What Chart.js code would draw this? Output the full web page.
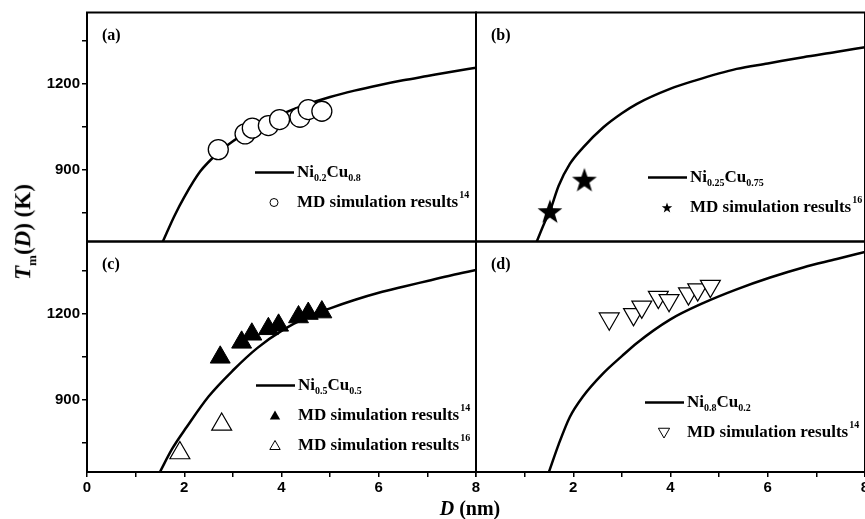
<!DOCTYPE html>
<html>
<head>
<meta charset="utf-8">
<script src="https://cdn.jsdelivr.net/npm/chart.js@4.4.1/dist/chart.umd.min.js"></script>
<style>
  html, body { margin: 0; padding: 0; background: #fff; overflow: hidden; width: 865px; height: 519px; }
  .box { position: absolute; }
  #ytitle { position: absolute; left: 25px; top: 232px; transform: translate(-50%, -50%) rotate(-90deg);
    font: bold 23px "Liberation Serif"; white-space: nowrap; color: #000; }
  #ytitle sub { font-size: 13px; }
  #xtitle { position: absolute; left: 470px; top: 508px; transform: translate(-50%, -50%);
    font: bold 20px "Liberation Serif"; white-space: nowrap; color: #000; }
</style>
</head>
<body>
<div class="box" style="left:0;top:0;width:478px;height:243px"><canvas id="ca"></canvas></div>
<div class="box" style="left:474px;top:0;width:400px;height:243px"><canvas id="cb"></canvas></div>
<div class="box" style="left:474px;top:240px;width:400px;height:279px"><canvas id="cd"></canvas></div>
<div class="box" style="left:0;top:240px;width:490px;height:279px"><canvas id="cc"></canvas></div>
<div id="ytitle"><i>T</i><sub>m</sub>(<i>D</i>) (K)</div>
<div id="xtitle"><i>D</i> (nm)</div>
<script>
// axis ticks
const xTicks = [0, 1, 2, 3, 4, 5, 6, 7, 8];
const xLabeled = [0, 2, 4, 6, 8];
const yTicks = [750, 900, 1050, 1200, 1350];
const yLabeled = [900, 1200];

// (a) Ni0.2Cu0.8
const curveA_D = [1.56, 1.8, 2.0, 2.33, 2.7, 3.0, 3.5, 4.0, 4.5, 5.0, 5.5, 6.0, 6.5, 7.0, 7.5, 8.0];
const curveA_T = [650, 740, 805, 895, 960, 1000, 1055, 1095, 1128, 1155, 1177, 1196, 1213, 1228, 1243, 1257];
const mdA_D = [2.70, 3.25, 3.40, 3.73, 3.96, 4.38, 4.55, 4.83];
const mdA_T = [971, 1026, 1046, 1055, 1076, 1084, 1111, 1105];

// (b) Ni0.25Cu0.75
const curveB_D = [1.25, 1.4, 1.52, 1.7, 1.93, 2.2, 2.62, 3.0, 3.31, 3.99, 4.5, 5.36, 6.0, 6.73, 7.4, 8.0];
const curveB_T = [650, 712, 756, 845, 921, 978, 1049, 1098, 1131, 1183, 1212, 1253, 1272, 1294, 1312, 1329];
const mdB_D = [1.52, 2.23];
const mdB_T = [756, 866];

// (c) Ni0.5Cu0.5
const curveC_D = [1.5, 1.75, 2.05, 2.5, 3.01, 3.5, 4.04, 4.5, 5.0, 5.5, 6.0, 6.5, 7.0, 7.5, 8.0];
const curveC_T = [650, 730, 806, 912, 1004, 1080, 1144, 1185, 1218, 1247, 1272, 1293, 1313, 1333, 1351];
const mdC14_D = [2.74, 3.18, 3.39, 3.73, 3.94, 4.35, 4.55, 4.83];
const mdC14_T = [1048, 1100, 1128, 1147, 1159, 1188, 1200, 1205];
const mdC16_D = [1.91, 2.77];
const mdC16_T = [716, 815];

// (d) Ni0.8Cu0.2
const curveD_D = [1.5, 1.7, 1.93, 2.2, 2.62, 3.0, 3.31, 3.99, 4.68, 5.36, 6.05, 6.73, 7.42, 8.0];
const curveD_T = [650, 746, 841, 912, 993, 1052, 1098, 1179, 1237, 1284, 1325, 1360, 1389, 1414];
const mdD_D = [2.74, 3.24, 3.41, 3.75, 3.97, 4.37, 4.56, 4.82];
const mdD_T = [1182, 1197, 1223, 1257, 1246, 1269, 1283, 1295];

const pts = (xs, ys) => xs.map((x, i) => ({ x: x, y: ys[i] }));

// filled five-point star used as marker in (b)
function makeStar(r) {
  const c = document.createElement('canvas');
  c.width = c.height = Math.ceil(r * 2 + 2);
  const g = c.getContext('2d');
  starPath(g, c.width / 2, c.height / 2 + r * 0.1, r);
  g.fillStyle = '#000';
  g.fill();
  return c;
}
function starPath(g, cx, cy, r) {
  g.beginPath();
  for (let i = 0; i < 10; i++) {
    const rr = i % 2 === 0 ? r : r * 0.4;
    const a = -Math.PI / 2 + i * Math.PI / 5;
    g.lineTo(cx + rr * Math.cos(a), cy + rr * Math.sin(a));
  }
  g.closePath();
}
const bigStar = makeStar(13);

const SERIF = '"Liberation Serif", "Times New Roman", serif';
const SANS = '"Liberation Sans", Arial, sans-serif';

function triPath(g, x, y, r, down) {
  const s = down ? -1 : 1;
  g.beginPath();
  g.moveTo(x, y - s * r);
  g.lineTo(x + r * 0.866, y + s * r * 0.5);
  g.lineTo(x - r * 0.866, y + s * r * 0.5);
  g.closePath();
}

function drawMarker(g, kind, x, y) {
  g.save();
  g.lineWidth = 1;
  g.strokeStyle = '#000';
  g.fillStyle = '#000';
  if (kind === 'circle') {
    g.beginPath(); g.arc(x, y, 4, 0, Math.PI * 2);
    g.fillStyle = '#fff'; g.fill(); g.stroke();
  } else if (kind === 'star') {
    starPath(g, x, y + 0.5, 5.5); g.fill();
  } else if (kind === 'tri') {
    triPath(g, x, y + 1, 6, false); g.fill();
  } else if (kind === 'otri') {
    triPath(g, x, y + 1, 6, false); g.fillStyle = '#fff'; g.fill(); g.stroke();
  } else if (kind === 'dtri') {
    triPath(g, x, y - 1, 6.5, true); g.fillStyle = '#fff'; g.fill(); g.stroke();
  }
  g.restore();
}

function drawRich(g, x, y, parts) {
  g.textBaseline = 'middle';
  g.textAlign = 'left';
  g.fillStyle = '#000';
  parts.forEach(p => {
    if (p.sub) {
      g.font = 'bold 10px ' + SERIF;
      g.fillText(p.t, x, y + 6);
    } else if (p.sup) {
      g.font = 'bold 10px ' + SERIF;
      g.fillText(p.t, x + 1, y - 7);
    } else {
      g.font = 'bold 17px ' + SERIF;
      g.fillText(p.t, x, y);
    }
    x += g.measureText(p.t).width + (p.sup ? 1 : 0);
  });
}

// frame, panel letter and legend
const panelDeco = {
  id: 'panelDeco',
  afterDraw(chart, args, opts) {
    const g = chart.ctx;
    const a = chart.chartArea;
    g.save();
    g.strokeStyle = '#000';
    g.lineWidth = 2;
    g.strokeRect(a.left, a.top, a.right - a.left, a.bottom - a.top);

    g.fillStyle = '#000';
    g.font = 'bold 16px ' + SERIF;
    g.textBaseline = 'middle';
    g.fillText(opts.letter, a.left + 15, a.top + 23);

    const lx = a.left + opts.lx, ly = a.top + opts.ly;
    opts.rows.forEach((row, i) => {
      const y = ly + i * 30;
      if (row.kind === 'line') {
        g.beginPath();
        g.lineWidth = 2.5;
        g.moveTo(lx, y); g.lineTo(lx + 39, y);
        g.stroke();
      } else {
        drawMarker(g, row.kind, lx + 19, y);
      }
      drawRich(g, lx + 42, y, row.parts);
    });
    g.restore();
  }
};

function fixSize(s, size, horizontal) {
  if (horizontal) s.height = size; else s.width = size;
  s.paddingLeft = 0; s.paddingRight = 0; s.paddingTop = 0; s.paddingBottom = 0;
}

function xAxis(show, labels) {
  return {
    type: 'linear', min: 0, max: 8, display: show,
    afterBuildTicks: s => { s.ticks = xTicks.map(v => ({ value: v })); },
    afterFit: s => fixSize(s, show ? 47 : 0, true),
    border: { display: false },
    grid: { drawOnChartArea: false, drawTicks: true, tickLength: 5, color: '#000', lineWidth: 1.5 },
    ticks: {
      autoSkip: false, maxRotation: 0, padding: 2, color: '#000',
      font: { family: SANS, size: 15, weight: 'bold' },
      callback: v => (labels.includes(v) ? String(v) : '')
    }
  };
}

function yAxis(show) {
  return {
    type: 'linear', min: 650, max: 1450, display: show,
    afterBuildTicks: s => { s.ticks = yTicks.map(v => ({ value: v })); },
    afterFit: s => fixSize(s, show ? 87 : 0, false),
    border: { display: false },
    grid: { drawOnChartArea: false, drawTicks: true, tickLength: 5, color: '#000', lineWidth: 1.5 },
    ticks: {
      padding: 2, color: '#000',
      font: { family: SANS, size: 15, weight: 'bold' },
      callback: v => (yLabeled.includes(v) ? String(v) : '')
    }
  };
}

function curveSet(xs, ys) {
  return {
    data: pts(xs, ys), showLine: true, borderColor: '#000', borderWidth: 2.5,
    pointRadius: 0, tension: 0.4, cubicInterpolationMode: 'monotone', order: 2
  };
}

function makePanel(id, cfg) {
  new Chart(document.getElementById(id), {
    type: 'scatter',
    data: { datasets: cfg.datasets },
    options: {
      responsive: true, maintainAspectRatio: false, animation: false,
      layout: { padding: cfg.padding, autoPadding: false },
      scales: { x: cfg.x, y: cfg.y },
      plugins: {
        legend: { display: false }, tooltip: { enabled: false },
        panelDeco: cfg.deco
      }
    },
    plugins: [panelDeco]
  });
}

const openCircle = { pointStyle: 'circle', pointRadius: 10, backgroundColor: '#fff', borderColor: '#000', borderWidth: 1.3 };

makePanel('ca', {
  padding: { top: 12.5, right: 2, bottom: 1.5, left: 0 },
  x: xAxis(false, []), y: yAxis(true),
  datasets: [curveSet(curveA_D, curveA_T),
    Object.assign({ data: pts(mdA_D, mdA_T), order: 1 }, openCircle)],
  deco: { letter: '(a)', lx: 168, ly: 160, rows: [
    { kind: 'line', parts: [{ t: 'Ni' }, { t: '0.2', sub: true }, { t: 'Cu' }, { t: '0.8', sub: true }] },
    { kind: 'circle', parts: [{ t: 'MD simulation results' }, { t: '14', sup: true }] }
  ] }
});

makePanel('cb', {
  padding: { top: 12.5, right: 9, bottom: 1.5, left: 2 },
  x: xAxis(false, []), y: yAxis(false),
  datasets: [curveSet(curveB_D, curveB_T),
    { data: pts(mdB_D, mdB_T), pointStyle: bigStar, pointRadius: 13, order: 1 }],
  deco: { letter: '(b)', lx: 172, ly: 165, rows: [
    { kind: 'line', parts: [{ t: 'Ni' }, { t: '0.25', sub: true }, { t: 'Cu' }, { t: '0.75', sub: true }] },
    { kind: 'star', parts: [{ t: 'MD simulation results' }, { t: '16', sup: true }] }
  ] }
});

makePanel('cc', {
  padding: { top: 1.5, right: 14, bottom: 0, left: 0 },
  x: xAxis(true, xLabeled), y: yAxis(true),
  datasets: [curveSet(curveC_D, curveC_T),
    { data: pts(mdC14_D, mdC14_T), pointStyle: 'triangle', pointRadius: 11.5, backgroundColor: '#000', borderColor: '#000', borderWidth: 1, order: 1 },
    { data: pts(mdC16_D, mdC16_T), pointStyle: 'triangle', pointRadius: 11.5, backgroundColor: '#fff', borderColor: '#000', borderWidth: 1.2, order: 1 }],
  deco: { letter: '(c)', lx: 169, ly: 144, rows: [
    { kind: 'line', parts: [{ t: 'Ni' }, { t: '0.5', sub: true }, { t: 'Cu' }, { t: '0.5', sub: true }] },
    { kind: 'tri', parts: [{ t: 'MD simulation results' }, { t: '14', sup: true }] },
    { kind: 'otri', parts: [{ t: 'MD simulation results' }, { t: '16', sup: true }] }
  ] }
});

makePanel('cd', {
  padding: { top: 1.5, right: 9, bottom: 0, left: 2 },
  x: xAxis(true, [2, 4, 6, 8]), y: yAxis(false),
  datasets: [curveSet(curveD_D, curveD_T),
    { data: pts(mdD_D, mdD_T), pointStyle: 'triangle', rotation: 180, pointRadius: 11.5, backgroundColor: '#fff', borderColor: '#000', borderWidth: 1.2, order: 1 }],
  deco: { letter: '(d)', lx: 169, ly: 161, rows: [
    { kind: 'line', parts: [{ t: 'Ni' }, { t: '0.8', sub: true }, { t: 'Cu' }, { t: '0.2', sub: true }] },
    { kind: 'dtri', parts: [{ t: 'MD simulation results' }, { t: '14', sup: true }] }
  ] }
});
</script>
</body>
</html>
